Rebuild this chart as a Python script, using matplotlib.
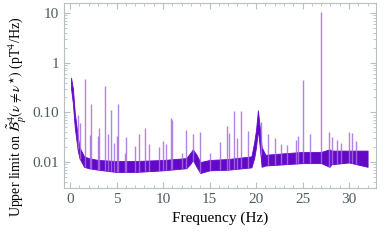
import matplotlib.pyplot as plt
import numpy as np
from matplotlib.ticker import MultipleLocator, FixedLocator, LogLocator, NullFormatter

plt.rcParams['font.family'] = ['Liberation Serif', 'DejaVu Serif']
plt.rcParams['mathtext.fontset'] = 'stix'

# baseline envelope of the spectrum
freq = [0.1, 0.3, 0.5, 0.8, 1.0, 1.5, 2.0, 3.0, 5.0, 7.0, 10.0, 12.5, 12.9, 13.2, 13.6,
        14.0, 15.0, 17.0, 19.5, 19.8, 20.0, 20.2, 20.4, 20.6, 21.0, 23.0, 25.0, 27.0,
        27.9, 28.1, 30.0, 32.0]
upper = [0.5, 0.3, 0.1, 0.035, 0.02, 0.013, 0.012, 0.011, 0.0105, 0.0105, 0.011, 0.012,
         0.015, 0.018, 0.014, 0.01, 0.011, 0.0115, 0.013, 0.025, 0.045, 0.11, 0.05, 0.02,
         0.014, 0.015, 0.016, 0.016, 0.018, 0.017, 0.017, 0.017]
lower = [0.3, 0.15, 0.05, 0.018, 0.012, 0.008, 0.0075, 0.007, 0.0063, 0.0063, 0.0068,
         0.0075, 0.009, 0.011, 0.008, 0.006, 0.0068, 0.007, 0.0078, 0.012, 0.02, 0.045,
         0.02, 0.008, 0.0085, 0.009, 0.0095, 0.0095, 0.008, 0.009, 0.0098, 0.008]

# narrow lines (frequency, height)
spike_f = [0.8, 1.07, 1.6, 2.1, 2.26, 3.0, 3.08, 3.72, 4.05, 4.44, 4.7, 5.0, 5.19, 5.9,
           6.05, 7.0, 7.4, 8.1, 8.45, 9.6, 9.95, 10.3, 10.88, 11.0, 12.0, 12.46, 13.25,
           14.0, 15.0, 16.15, 16.86, 17.1, 17.65, 17.9, 18.37, 19.1, 20.5, 21.3, 22.0,
           22.7, 23.35, 24.25, 24.5, 25.0, 25.8, 27.03, 27.9, 28.2, 28.7, 29.15, 30.0,
           30.35, 30.8]
spike_h = [0.09, 0.06, 0.46, 0.035, 0.145, 0.033, 0.049, 0.34, 0.037, 0.11, 0.024, 0.034,
           0.15, 0.015, 0.032, 0.021, 0.037, 0.049, 0.023, 0.02, 0.026, 0.023, 0.078, 0.07,
           0.015, 0.045, 0.037, 0.04, 0.015, 0.025, 0.052, 0.039, 0.105, 0.03, 0.105,
           0.043, 0.065, 0.037, 0.031, 0.023, 0.022, 0.028, 0.034, 0.44, 0.037, 10.5,
           0.04, 0.032, 0.028, 0.024, 0.041, 0.038, 0.026]

fig = plt.figure(figsize=(3.86, 2.48), dpi=100)
ax = fig.add_axes([0.166, 0.242, 0.808, 0.746])

base = np.interp(spike_f, freq, lower)
ax.vlines(spike_f, base, spike_h, color='#a66ee0', lw=1.0, alpha=0.85)
ax.fill_between(freq, lower, upper, color='#6408c8', lw=0.6, edgecolor='#6408c8')

ax.set_yscale('log')
ax.set_xlim(-0.65, 32.9)
ax.set_ylim(0.003, 16)

gray = '#b8bfc2'
for s in ax.spines.values():
    s.set_color(gray)
ax.xaxis.set_major_locator(MultipleLocator(5))
ax.xaxis.set_minor_locator(MultipleLocator(1))
ax.yaxis.set_major_locator(FixedLocator([0.01, 0.1, 1, 10]))
ax.yaxis.set_minor_locator(LogLocator(subs=np.arange(2, 10)))
ax.yaxis.set_minor_formatter(NullFormatter())
ax.set_yticklabels(['0.01', '0.10', '1', '10'])
ax.tick_params(which='both', direction='in', top=True, right=True, color=gray,
               labelcolor='#4f5b62', labelsize=11)
ax.tick_params(which='major', length=4)
ax.tick_params(which='minor', length=2)

ax.set_xlabel('Frequency (Hz)', fontsize=11)
fig.text(0.044, 0.53,
         r'Upper limit on $\tilde{\mathcal{B}}^4_p(\nu \neq \nu^{\star})$ (pT$^4$/Hz)',
         rotation=90, ha='center', va='center', fontsize=10)

fig.savefig('out.png')
